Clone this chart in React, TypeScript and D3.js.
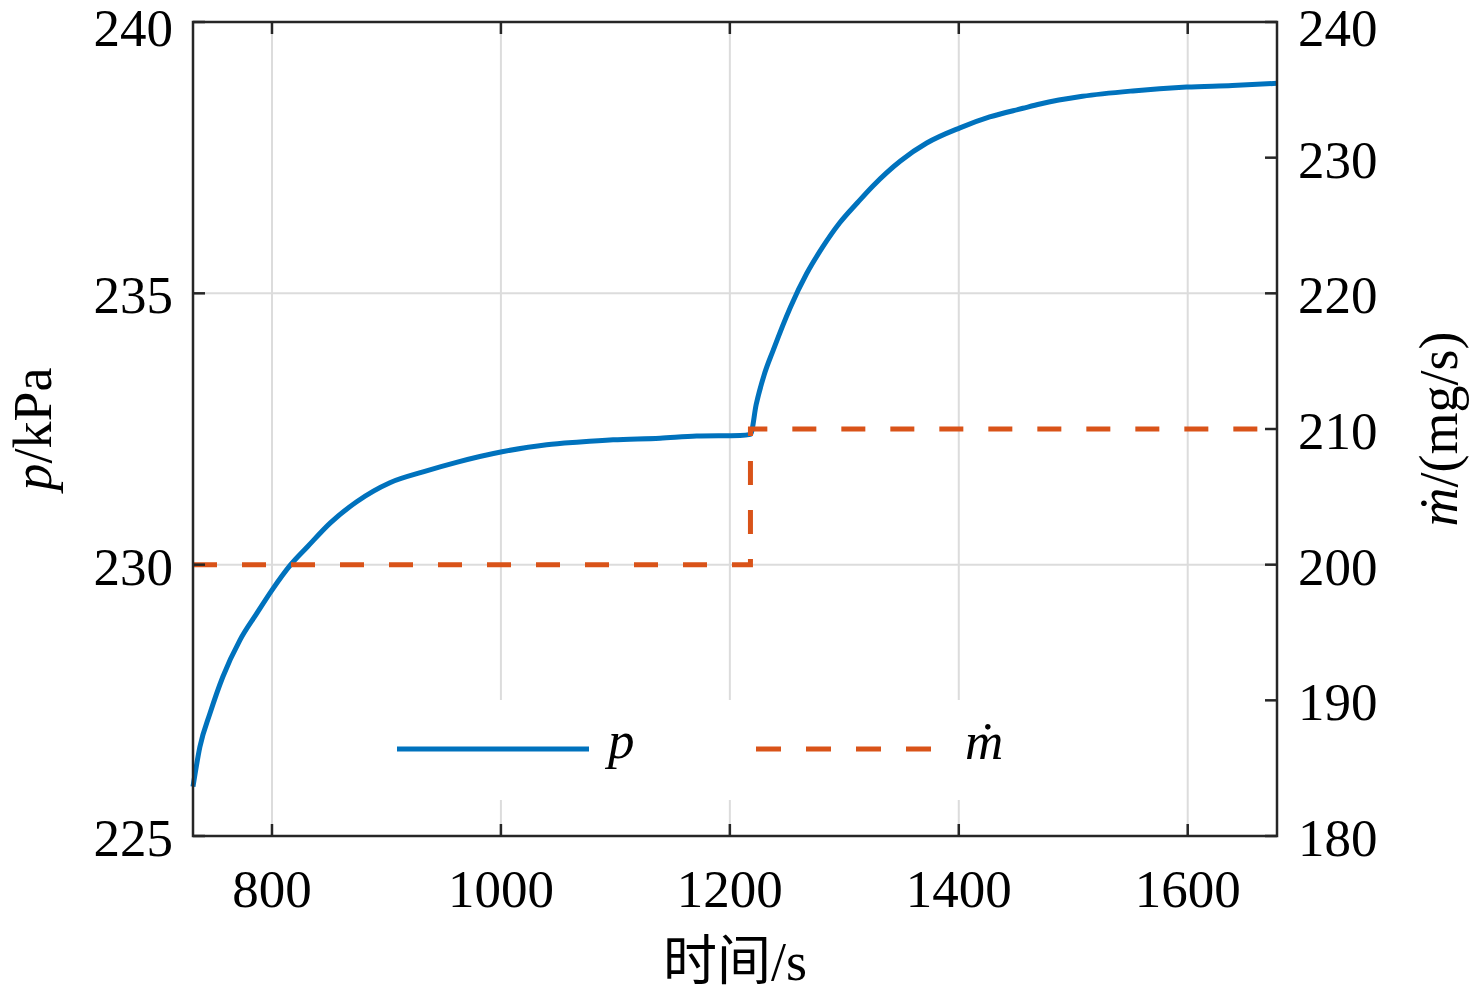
import React from "react";
import * as d3 from "d3";

const timeP = [
  731, 737, 746, 757, 772, 787, 800, 816, 831, 851, 874, 903, 932, 962, 1001,
  1040, 1069, 1098, 1139, 1171, 1209, 1218, 1223, 1230, 1238, 1253, 1267, 1281,
  1296, 1311, 1325, 1349, 1372, 1401, 1427, 1456, 1471, 1508, 1552, 1599, 1639,
  1678,
];
const pValues = [
  225.91, 226.64, 227.27, 227.93, 228.61, 229.11, 229.53, 229.99, 230.33,
  230.77, 231.16, 231.51, 231.71, 231.89, 232.08, 232.21, 232.26, 232.3,
  232.33, 232.37, 232.38, 232.4, 232.95, 233.5, 233.96, 234.75, 235.36, 235.85,
  236.3, 236.66, 236.98, 237.44, 237.77, 238.05, 238.25, 238.41, 238.49,
  238.63, 238.73, 238.8, 238.83, 238.87,
];

// mass flow step (mg/s)
const timeM = [731, 1218, 1218, 1678];
const mValues = [200, 200, 210, 210];

const xTicks = [800, 1000, 1200, 1400, 1600];
const leftTicks = [225, 230, 235, 240];
const rightTicks = [180, 190, 200, 210, 220, 230, 240];

const BLUE = "#0072BD";
const ORANGE = "#D95319";
const AXIS = "#262626";
const FONT = "'Liberation Serif', 'Times New Roman', 'Noto Sans CJK SC', serif";

const App: React.FC = () => {
  const width = 1476;
  const height = 1000;
  const margin = { top: 22, right: 199, bottom: 164, left: 193 };
  const x0 = margin.left;
  const x1 = width - margin.right;
  const y0 = margin.top;
  const y1 = height - margin.bottom;

  const xScale = d3.scaleLinear().domain([731, 1678]).range([x0, x1]);
  const yLeft = d3.scaleLinear().domain([225, 240]).range([y1, y0]);
  const yRight = d3.scaleLinear().domain([180, 240]).range([y1, y0]);

  const pLine = d3
    .line<number>()
    .x((_, i) => xScale(timeP[i]))
    .y((d) => yLeft(d))
    .curve(d3.curveMonotoneX);

  const mLine = d3
    .line<number>()
    .x((_, i) => xScale(timeM[i]))
    .y((d) => yRight(d));

  const tickLen = 12;
  const fontSize = 53;
  // labels sit a little below their tick, the top one kept inside the page
  const labelY = (y: number) => Math.max(y + 20, 46);

  return (
    <svg
      width={width}
      height={height}
      style={{ position: "absolute", left: 0, top: 0, background: "#fff" }}
      fontFamily={FONT}
    >
      <rect x={0} y={0} width={width} height={height} fill="#fff" />

      {/* grid */}
      <g stroke="#dcdcdc" strokeWidth={2}>
        {xTicks.map((t) => (
          <line key={t} x1={xScale(t)} x2={xScale(t)} y1={y0} y2={y1} />
        ))}
        {leftTicks.map((t) => (
          <line key={t} x1={x0} x2={x1} y1={yLeft(t)} y2={yLeft(t)} />
        ))}
      </g>

      {/* data */}
      <path
        d={pLine(pValues) || ""}
        fill="none"
        stroke={BLUE}
        strokeWidth={5}
        strokeLinejoin="round"
      />
      <path
        d={mLine(mValues) || ""}
        fill="none"
        stroke={ORANGE}
        strokeWidth={5}
        strokeDasharray="24,25"
      />

      {/* legend */}
      <rect x={372} y={700} width={660} height={100} fill="#fff" />
      <line x1={397} x2={589} y1={749} y2={749} stroke={BLUE} strokeWidth={5} />
      <text x={608} y={758} fontSize={fontSize} fontStyle="italic" fill="#000">
        p
      </text>
      <line
        x1={756}
        x2={931}
        y1={749}
        y2={749}
        stroke={ORANGE}
        strokeWidth={5}
        strokeDasharray="25,25"
      />
      <text x={965} y={759} fontSize={fontSize} fontStyle="italic" fill="#000">
        ṁ
      </text>

      {/* box and ticks */}
      <g stroke={AXIS} strokeWidth={2.5} fill="none">
        <rect x={x0} y={y0} width={x1 - x0} height={y1 - y0} />
        {xTicks.map((t) => (
          <g key={t}>
            <line x1={xScale(t)} x2={xScale(t)} y1={y1} y2={y1 - tickLen} />
            <line x1={xScale(t)} x2={xScale(t)} y1={y0} y2={y0 + tickLen} />
          </g>
        ))}
        {leftTicks.map((t) => (
          <line key={t} x1={x0} x2={x0 + tickLen} y1={yLeft(t)} y2={yLeft(t)} />
        ))}
        {rightTicks.map((t) => (
          <line key={t} x1={x1} x2={x1 - tickLen} y1={yRight(t)} y2={yRight(t)} />
        ))}
      </g>

      {/* tick labels */}
      <g fontSize={fontSize} fill="#000">
        {xTicks.map((t) => (
          <text key={t} x={xScale(t)} y={907} textAnchor="middle">
            {t}
          </text>
        ))}
        {leftTicks.map((t) => (
          <text key={t} x={x0 - 20} y={labelY(yLeft(t))} textAnchor="end">
            {t}
          </text>
        ))}
        {rightTicks.map((t) => (
          <text key={t} x={x1 + 21} y={labelY(yRight(t))} textAnchor="start">
            {t}
          </text>
        ))}
      </g>

      {/* axis labels */}
      <text x={735} y={980} fontSize={54} textAnchor="middle" fill="#000">
        时间/s
      </text>
      <text
        transform={`translate(51, ${(y0 + y1) / 2}) rotate(-90)`}
        fontSize={54}
        textAnchor="middle"
        fill="#000"
      >
        <tspan fontStyle="italic">p</tspan>/kPa
      </text>
      <text
        transform={`translate(1457, ${(y0 + y1) / 2}) rotate(-90)`}
        fontSize={54}
        textAnchor="middle"
        fill="#000"
      >
        <tspan fontStyle="italic">ṁ</tspan>/(mg/s)
      </text>
    </svg>
  );
};

export default App;
